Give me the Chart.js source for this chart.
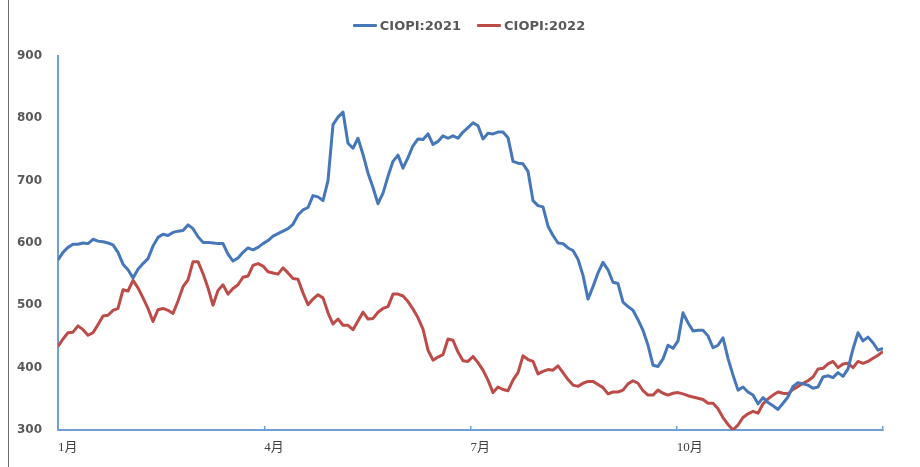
<!DOCTYPE html>
<html>
<head>
<meta charset="utf-8">
<script src="https://cdn.jsdelivr.net/npm/chart.js@4.4.1/dist/chart.umd.min.js"></script>
<style>
  body { margin: 0; background: #fff; }
  .wrap { position: relative; width: 920px; height: 467px; }
  .edge { position: absolute; left: 8px; top: 0; width: 1px; height: 467px; background: #6b6b6b; }
  .legend {
    position: absolute; top: 18px; left: 0; width: 920px; padding-left: 18px; box-sizing: border-box;
    display: flex; justify-content: center; gap: 16px;
    font: bold 13px "DejaVu Sans", sans-serif; color: #595959;
  }
  .legend span { display: flex; align-items: center; gap: 3px; }
  .legend i { display: inline-block; width: 24px; height: 3px; border-radius: 1px; }
</style>
</head>
<body>
<div class="wrap">
  <div class="edge"></div>
  <div class="legend" id="legend"></div>
  <canvas id="grafico" width="920" height="467"></canvas>
</div>
<script>
/* DADOS: CIOPI por dia útil, 2021 x 2022 */
const ciopi2021 = [
  573,585,593,598,598,600,599,606,603,602,600,597,585,566,557,544,558,567,575,595,
  609,614,612,617,619,620,629,623,610,601,601,600,599,599,582,571,576,585,592,589,
  593,599,604,611,615,619,623,630,645,653,657,676,674,668,700,790,
  802,810,760,752,768,742,712,689,663,680,707,731,741,720,737,756,767,766,775,758,
  763,772,768,772,768,778,785,793,788,767,776,775,778,778,769,731,728,727,715,668,
  660,658,627,612,600,599,592,588,574,548,510,530,552,569,557,
  537,535,505,498,492,477,460,436,404,402,414,436,431,443,488,472,459,460,460,451,
  432,436,448,415,388,364,369,361,356,342,352,344,339,333,343,353,370,376,374,372,
  367,369,385,387,384,392,386,398,430,456,443,449,440,428,431
];
const ciopi2022 = [
  434,446,456,457,467,461,452,456,469,483,484,492,495,525,523,540,528,512,495,474,
  493,495,492,487,507,530,541,570,570,551,528,500,524,533,518,527,533,545,547,564,
  567,563,554,552,550,560,552,543,542,520,501,510,517,512,488,470,
  478,468,468,461,475,489,478,479,489,495,498,518,518,515,506,494,480,462,428,412,
  417,421,446,444,425,411,410,418,408,396,380,360,369,365,363,380,392,419,413,410,
  390,394,397,396,403,392,381,372,370,375,378,378,373,368,358,
  361,361,364,374,379,375,363,356,356,364,359,356,359,360,358,355,353,351,349,343,
  343,334,320,309,300,308,320,326,330,327,342,350,356,361,359,358,365,370,375,379,
  385,398,399,406,410,400,406,407,400,410,407,410,415,420,426
];
const meses = ["1月", "4月", "7月", "10月", ""];
const eixoY = { min: 300, max: 900, passo: 100 };

const azul = "#4677b8";
const vermelho = "#bd4b48";
const corEixo = "#6f9fd8";
const ultimo = ciopi2021.length - 1;

const series = [
  { label: "CIOPI:2021", valores: ciopi2021, cor: azul },
  { label: "CIOPI:2022", valores: ciopi2022, cor: vermelho }
];

/* LEGENDA */
const legendaEl = document.getElementById("legend");
series.forEach(s => {
  legendaEl.innerHTML += `<span><i style="background:${s.cor}"></i>${s.label}</span>`;
});

/* GRÁFICO */
new Chart(document.getElementById("grafico"), {
  type: "line",
  data: {
    datasets: series.map(s => ({
      label: s.label,
      data: s.valores.map((v, i) => ({ x: i, y: v })),
      borderColor: s.cor,
      backgroundColor: s.cor,
      borderWidth: 3,
      pointRadius: 0,
      tension: 0,
      borderJoinStyle: "round"
    }))
  },
  options: {
    responsive: false,
    animation: false,
    layout: { padding: { top: 56, right: 37, bottom: 0, left: 0 } },
    plugins: { legend: { display: false }, tooltip: { enabled: false } },
    scales: {
      x: {
        type: "linear",
        min: 0,
        max: ultimo,
        afterBuildTicks: scale => {
          scale.ticks = [0, 3, 6, 9, 12].map(m => ({ value: m * ultimo / 12 }));
        },
        afterFit: scale => { scale.height = 37; },
        grid: { drawOnChartArea: false, color: corEixo, lineWidth: 1.5, tickLength: -4 },
        border: { color: corEixo, width: 2 },
        ticks: {
          autoSkip: false,
          maxRotation: 0,
          align: "start",
          padding: 14,
          color: "#404040",
          font: { family: "'Liberation Serif', 'Noto Sans CJK SC'", size: 13 },
          callback: (v, i) => meses[i]
        }
      },
      y: {
        min: eixoY.min,
        max: eixoY.max,
        afterFit: scale => { scale.width = 58; },
        grid: { display: false, drawTicks: false },
        border: { color: corEixo, width: 2 },
        ticks: {
          stepSize: eixoY.passo,
          padding: 16,
          color: "#595959",
          font: { family: "'DejaVu Sans'", size: 12, weight: "bold" }
        }
      }
    }
  }
});
</script>
</body>
</html>
